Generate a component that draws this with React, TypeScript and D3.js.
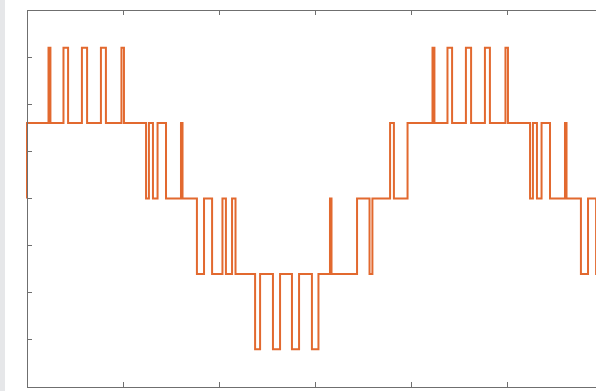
import * as d3 from "d3";

const W = 596;
const H = 391;

// switching instants (s) and the output level (V) held after each one
const switchTimes = [
  0, 0, 0.00112, 0.00122, 0.0019, 0.00214, 0.00286, 0.00313, 0.00385, 0.00411,
  0.00492, 0.00505, 0.0062, 0.00635, 0.00656, 0.0068, 0.00724, 0.00802, 0.0081,
  0.00885, 0.00922, 0.00964, 0.01018, 0.01036, 0.01068, 0.01086, 0.01188,
  0.01214, 0.01281, 0.01318, 0.0138, 0.01417, 0.01484, 0.01518, 0.01578,
  0.01586, 0.01719, 0.01784, 0.01799, 0.01891, 0.01911, 0.01982, 0.02112,
  0.02122, 0.0219, 0.02214, 0.02286, 0.02313, 0.02385, 0.02411, 0.02492,
  0.02505, 0.0262, 0.02635, 0.02656, 0.0268, 0.02724, 0.02802, 0.0281, 0.02885,
  0.02922, 0.02964, 0.0302,
];
const switchLevels = [
  0, 80, 160, 80, 160, 80, 160, 80, 160, 80,
  160, 80, 0, 80, 0, 80, 0, 80, 0,
  -80, 0, -80, 0, -80, 0, -80, -160,
  -80, -160, -80, -160, -80, -160, -80, 0,
  -80, 0, -80, 0, 80, 0, 80, 160,
  80, 160, 80, 160, 80, 160, 80, 160,
  80, 0, 80, 0, 80, 0, 80, 0, -80,
  0, -80, -80,
];

const xTicks = [0, 0.005, 0.01, 0.015, 0.02, 0.025, 0.03];
const yTicks = [-150, -100, -50, 0, 50, 100, 150];

export default function App() {
  const x = d3.scaleLinear().domain([0, 0.03]).range([27, 603]);
  const y = d3.scaleLinear().domain([-200, 200]).range([387, 10]);

  const pts: [number, number][] = switchTimes.map((t, i) => [t, switchLevels[i]]);
  const line = d3
    .line<[number, number]>()
    .x((d) => x(d[0]))
    .y((d) => y(d[1]))
    .curve(d3.curveStepAfter);

  const axisColor = "#6f6f6f";
  const tickLen = 5;
  const [x0, x1] = x.range();
  const [yb, yt] = y.range();

  return (
    <svg
      width={W}
      height={H}
      style={{ position: "fixed", left: 0, top: 0, background: "#fff" }}
    >
      <rect x={0} y={0} width={5} height={H} fill="#e6e7e9" />

      {/* waveform */}
      <path
        d={line(pts) ?? ""}
        fill="none"
        stroke="#e2692f"
        strokeWidth={2}
      />

      {/* box */}
      <g stroke={axisColor} strokeWidth={1} fill="none" shapeRendering="crispEdges">
        <line x1={x0} y1={yt} x2={x1} y2={yt} />
        <line x1={x0} y1={yb} x2={x1} y2={yb} />
        <line x1={x0} y1={yt} x2={x0} y2={yb} />
        <line x1={x1} y1={yt} x2={x1} y2={yb} />
        {yTicks.map((v) => (
          <g key={"y" + v}>
            <line x1={x0} y1={y(v)} x2={x0 + tickLen} y2={y(v)} />
            <line x1={x1} y1={y(v)} x2={x1 - tickLen} y2={y(v)} />
          </g>
        ))}
        {xTicks.map((v) => (
          <g key={"x" + v}>
            <line x1={x(v)} y1={yt} x2={x(v)} y2={yt + tickLen} />
            <line x1={x(v)} y1={yb} x2={x(v)} y2={yb - tickLen} />
          </g>
        ))}
      </g>
    </svg>
  );
}
